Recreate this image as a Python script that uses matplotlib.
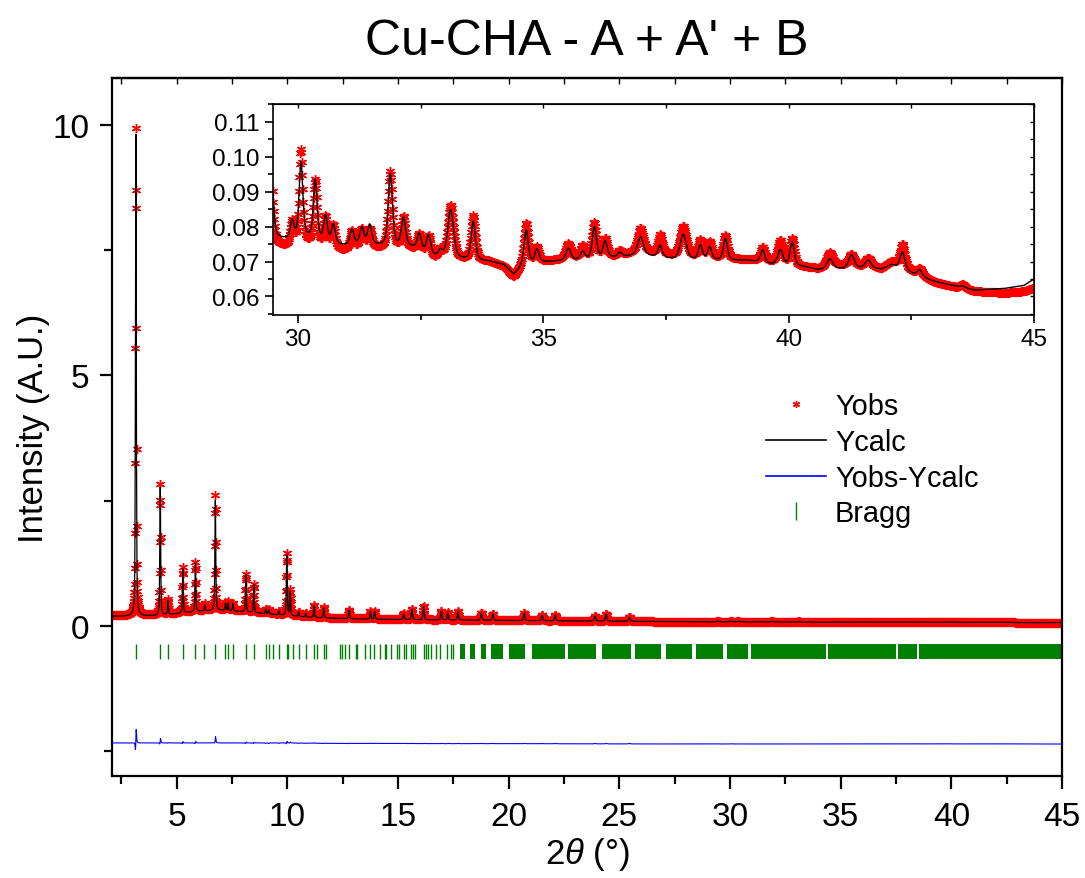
import numpy as np
import matplotlib.pyplot as plt
from matplotlib.lines import Line2D
from matplotlib.ticker import MultipleLocator

plt.rcParams['font.family'] = ['Liberation Sans', 'DejaVu Sans']
plt.rcParams['mathtext.fontset'] = 'custom'
plt.rcParams['mathtext.rm'] = 'Liberation Sans'
plt.rcParams['mathtext.it'] = 'Liberation Sans:italic'

# scan grid, 2theta in degrees
two_theta = np.arange(2.07, 45.0001, 0.01)

# background (knots): x, Ycalc level, Yobs level
bg_x = [2.0, 3.0, 4.0, 5.0, 6.0, 7.0, 8.0, 9.0, 10.0, 11.0, 12.0, 14.0, 17.0, 20.0, 25.0,
        29.5, 29.8, 30.2, 30.9, 31.6, 32.3, 32.8, 33.3, 33.9, 34.2, 34.4, 34.6, 35.0,
        35.6, 36.5, 37.0, 37.7, 38.5, 39.2, 39.6, 40.3, 40.6, 41.0, 41.5, 41.9, 42.1,
        42.6, 43.0, 43.3, 43.8, 44.4, 44.8, 45.0]
bg_calc = [0.19, 0.19, 0.20, 0.24, 0.29, 0.31, 0.28, 0.24, 0.20, 0.17, 0.15, 0.13, 0.115, 0.105, 0.09,
           0.0765, 0.0762, 0.0765, 0.0745, 0.0745, 0.0740, 0.0712, 0.0705, 0.0700, 0.0690, 0.0662,
           0.0690, 0.0698, 0.0703, 0.0712, 0.0718, 0.0705, 0.0703, 0.0703, 0.0692, 0.0685, 0.0676,
           0.0678, 0.0680, 0.0678, 0.0690, 0.0660, 0.0642, 0.0633, 0.0618, 0.0623, 0.0632, 0.0650]
bg_obs = [0.21, 0.21, 0.22, 0.26, 0.31, 0.33, 0.30, 0.26, 0.22, 0.185, 0.16, 0.14, 0.12, 0.11, 0.09,
          0.0745, 0.0740, 0.0745, 0.0730, 0.0735, 0.0735, 0.0705, 0.0705, 0.0700, 0.0685, 0.0655,
          0.0695, 0.0700, 0.0710, 0.0715, 0.0730, 0.0715, 0.0710, 0.0705, 0.0700, 0.0685, 0.0680,
          0.0690, 0.0685, 0.0680, 0.0700, 0.0665, 0.0640, 0.0630, 0.0615, 0.0610, 0.0615, 0.0625]

# peaks: position, top of Ycalc, top of Yobs, FWHM
peak_pos = [3.15, 4.25, 4.60, 5.27, 5.84, 6.26, 6.74, 7.20, 7.32, 7.53, 8.12, 8.48, 9.02, 9.16,
            9.62, 9.97, 10.12, 10.51, 10.83, 11.20, 11.64, 12.78, 13.75, 13.94, 15.25, 15.62,
            16.15, 16.95, 17.25, 17.70, 18.76, 19.28, 20.70, 21.50, 22.10, 23.90, 24.40, 25.45,
            29.45, 29.88, 30.06, 30.35, 30.56, 30.72, 31.10, 31.30, 31.46, 31.88, 32.15, 32.47,
            32.66, 32.90, 33.11, 33.57, 34.65, 34.87, 35.51, 35.80, 36.04, 36.26, 36.56, 36.98,
            37.38, 37.85, 38.20, 38.39, 38.71, 39.47, 39.83, 40.07, 40.84, 41.28, 41.62, 42.32,
            42.67, 43.55]
peak_calc = [9.82, 2.77, 0.50, 1.14, 1.25, 0.42, 2.50, 0.44, 0.46, 0.44, 1.02, 0.82, 0.33, 0.32,
             0.29, 1.41, 0.68, 0.27, 0.25, 0.40, 0.36, 0.31, 0.28, 0.28, 0.24, 0.33,
             0.38, 0.29, 0.26, 0.28, 0.25, 0.23, 0.25, 0.21, 0.21, 0.19, 0.23, 0.17,
             0.098, 0.0813, 0.0981, 0.0929, 0.0827, 0.0803, 0.0789, 0.0795, 0.0803, 0.0949, 0.0823, 0.0777,
             0.0772, 0.0728, 0.0847, 0.0813, 0.0789, 0.0734, 0.0737, 0.0727, 0.0799, 0.0757, 0.0725, 0.0770,
             0.0745, 0.0777, 0.0745, 0.0740, 0.0765, 0.0732, 0.0733, 0.0755, 0.0707, 0.0718, 0.0703, 0.0727,
             0.0676, 0.0630]
peak_obs = [9.95, 2.84, 0.52, 1.17, 1.28, 0.44, 2.62, 0.46, 0.48, 0.46, 1.04, 0.84, 0.34, 0.33,
            0.30, 1.44, 0.71, 0.28, 0.26, 0.42, 0.37, 0.32, 0.29, 0.29, 0.25, 0.34,
            0.39, 0.30, 0.27, 0.29, 0.26, 0.24, 0.26, 0.22, 0.22, 0.20, 0.24, 0.18,
            0.099, 0.0810, 0.1016, 0.0930, 0.0825, 0.0800, 0.0785, 0.0790, 0.0790, 0.0955, 0.0825, 0.0775,
            0.0770, 0.0730, 0.0860, 0.0830, 0.0810, 0.0740, 0.0750, 0.0745, 0.0810, 0.0765, 0.0730, 0.0795,
            0.0775, 0.0800, 0.0760, 0.0755, 0.0775, 0.0740, 0.0760, 0.0765, 0.0725, 0.0720, 0.0710, 0.0750,
            0.0680, 0.0635]
peak_fwhm = [0.045, 0.045, 0.045, 0.045, 0.045, 0.045, 0.045, 0.045, 0.045, 0.045, 0.045, 0.045, 0.05, 0.05,
             0.05, 0.05, 0.05, 0.05, 0.05, 0.05, 0.05, 0.055, 0.055, 0.055, 0.06, 0.06,
             0.06, 0.06, 0.06, 0.06, 0.065, 0.065, 0.07, 0.07, 0.07, 0.075, 0.075, 0.08,
             0.1, 0.09, 0.09, 0.09, 0.09, 0.09, 0.1, 0.1, 0.1, 0.1, 0.1, 0.1,
             0.1, 0.1, 0.14, 0.1, 0.1, 0.1, 0.12, 0.1, 0.1, 0.1, 0.1, 0.14,
             0.1, 0.15, 0.1, 0.1, 0.1, 0.1, 0.12, 0.1, 0.14, 0.14, 0.14, 0.12,
             0.12, 0.12]
obs_shift = 0.0007

# Bragg reflections: single ticks, then stretches where ticks merge
bragg_pos = [3.14, 4.24, 4.60, 5.26, 5.82, 6.24, 6.73, 7.20, 7.32, 7.53, 8.11, 8.48, 9.01, 9.16,
             9.35, 9.62, 9.96, 10.03, 10.26, 10.51, 10.83, 11.20, 11.34, 11.64, 11.73, 12.36,
             12.47, 12.62, 12.78, 13.09, 13.16, 13.52, 13.75, 13.91, 14.17, 14.40, 14.47, 14.67,
             14.97, 15.04, 15.25, 15.34, 15.60, 15.67, 15.76, 16.16, 16.25, 16.35, 16.47, 16.73,
             16.88, 17.23, 17.41, 17.48]
bragg_bands = [(17.78, 18.01), (18.23, 18.46), (18.73, 18.95), (19.21, 19.74), (19.99, 20.72),
               (21.03, 22.52), (22.67, 23.95), (24.22, 25.53), (25.71, 26.89), (27.11, 28.27),
               (28.44, 29.67), (29.85, 30.80), (30.95, 34.34), (34.41, 37.50), (37.57, 38.47),
               (38.55, 45.0)]
bragg_lo, bragg_hi = -0.66, -0.36
diff_offset = -2.36


def pv(x, x0, w):
    u = (x - x0) / w
    return 0.5 / (1 + 4 * u ** 2) + 0.5 * np.exp(-4 * np.log(2) * u ** 2)


ycalc = np.interp(two_theta, bg_x, bg_calc)
yobs = np.interp(two_theta, bg_x, bg_obs)
for p, tc, to, w in zip(peak_pos, peak_calc, peak_obs, peak_fwhm):
    ycalc += (tc - np.interp(p, bg_x, bg_calc)) * pv(two_theta, p, w)
    yobs += (to - np.interp(p, bg_x, bg_obs)) * pv(two_theta, p + obs_shift, w)
ydiff = yobs - ycalc + diff_offset

red, green, blue = '#ff0000', '#008000', '#0000ff'
star = (6, 2, 0)

fig = plt.figure(figsize=(10.85, 8.79), dpi=100)
ax = fig.add_axes([0.1032, 0.1161, 0.8756, 0.7940])

ax.plot(two_theta, yobs, ls='none', marker=star, ms=6.5, mew=1, color=red, zorder=2)
ax.plot(two_theta, ycalc, color='black', lw=0.9, zorder=3)
ax.plot(two_theta, ydiff, color=blue, lw=0.8, zorder=3)
ax.vlines(bragg_pos, bragg_lo, bragg_hi, color=green, lw=1)
ax.broken_barh([(a, b - a) for a, b in bragg_bands], (bragg_lo, bragg_hi - bragg_lo),
               facecolor=green, edgecolor='none')

ax.set_xlim(2.07, 45)
ax.set_ylim(-3.0, 10.94)
ax.xaxis.set_major_locator(MultipleLocator(5))
ax.xaxis.set_minor_locator(MultipleLocator(2.5))
ax.yaxis.set_major_locator(MultipleLocator(5))
ax.yaxis.set_minor_locator(MultipleLocator(2.5))
ax.tick_params(which='major', direction='out', length=9, width=1.6, labelsize=24)
ax.tick_params(which='minor', direction='out', length=5.5, width=1.6)
ax.tick_params(axis='x', which='major', pad=9)
ax.tick_params(axis='y', which='major', pad=7)
for s in ax.spines.values():
    s.set_linewidth(1.6)
top = ax.secondary_xaxis('top')
top.xaxis.set_major_locator(MultipleLocator(2.5))
top.tick_params(direction='in', length=4, width=1, labeltop=False)
top.spines['top'].set_linewidth(1.6)

ax.set_xlabel('2$\\theta$ (°)', fontsize=25, labelpad=2)
ax.set_ylabel('Intensity (A.U.)', fontsize=25, labelpad=2)
ax.set_title("Cu-CHA - A + A' + B", fontsize=36, pad=17)

handles = [Line2D([], [], ls='none', marker=star, ms=5, mew=1, color=red),
           Line2D([], [], color='black', lw=1.2),
           Line2D([], [], color=blue, lw=1.2),
           Line2D([], [], ls='none', marker='|', ms=13, mew=1, color=green)]
ax.legend(handles, ['Yobs', 'Ycalc', 'Yobs-Ycalc', 'Bragg'], loc='upper left',
          bbox_to_anchor=(0.688, 0.550), frameon=False, fontsize=20.8, borderpad=0,
          borderaxespad=0, labelspacing=0.27, handlelength=2.1, handletextpad=0.3)

# inset: zoom on the high-angle part
ins = fig.add_axes([0.2516, 0.6405, 0.7014, 0.2395])
ins.plot(two_theta, yobs, ls='none', marker=star, ms=6.5, mew=1, color=red)
ins.plot(two_theta, ycalc, color='black', lw=1.0)
ins.set_xlim(29.49, 45)
ins.set_ylim(0.0547, 0.115)
ins.xaxis.set_major_locator(MultipleLocator(5))
ins.xaxis.set_minor_locator(MultipleLocator(2.5))
ins.yaxis.set_major_locator(MultipleLocator(0.01))
ins.yaxis.set_minor_locator(MultipleLocator(0.005))
ins.yaxis.set_major_formatter(lambda v, pos: f'{v:.2f}')
ins.tick_params(which='major', direction='out', length=6, width=1.2, labelsize=17.5)
ins.tick_params(which='minor', direction='out', length=3.5, width=1.2)
for s in ins.spines.values():
    s.set_linewidth(1.2)
ins_top = ins.secondary_xaxis('top')
ins_top.xaxis.set_major_locator(MultipleLocator(2.5))
ins_top.tick_params(direction='in', length=3, width=1, labeltop=False)
ins_right = ins.secondary_yaxis('right')
ins_right.yaxis.set_major_locator(MultipleLocator(0.005))
ins_right.tick_params(direction='in', length=3, width=1, labelright=False)

fig.savefig('out.png', dpi=100)
